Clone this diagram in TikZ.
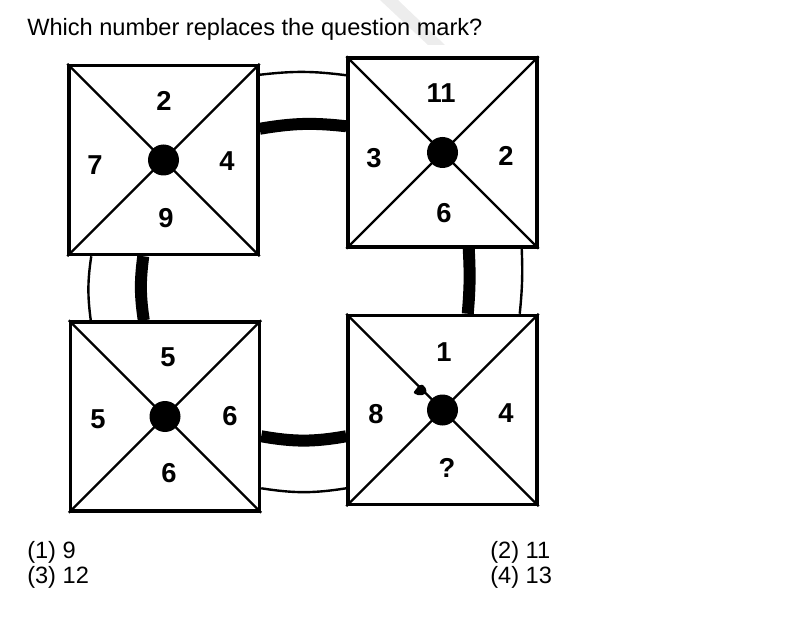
\documentclass[tikz,border=0pt]{standalone}
\usepackage{fontspec}
\setmainfont{Liberation Sans}
\usetikzlibrary{calc}
\begin{document}
\begin{tikzpicture}[x=0.75pt,y=-0.75pt,
  panel/.style={draw,line width=2.6pt,minimum size=141.75pt,inner sep=0pt},
  cross/.style={line width=1.7pt},
  ringthin/.style={line width=1.8pt},
  ringthick/.style={line width=9pt},
  num/.style={font=\fontsize{20.5}{20.5}\selectfont\bfseries,inner sep=0pt},
  txt/.style={font=\fontsize{17.7}{20}\selectfont,inner sep=0pt,anchor=base west}]
\useasboundingbox (0,0) rectangle (800,624);
% faint watermark
\fill[black!7] (380,0) -- (398,0) -- (445,45) -- (428,45) -- cycle;
\fill[black!7] (522,0) arc[start angle=-133,end angle=-47,radius=55] -- cycle;
\node[txt] (q) at (27,36) {Which number replaces the question mark?};
% four panels
\node[panel] (tl) at (163.5,160) {};
\node[panel] (tr) at (442.5,152.5) {};
\node[panel] (bl) at (165,416.5) {};
\node[panel] (br) at (442.5,410) {};
\draw[cross] (tl.north west) -- (tl.south east);
\draw[cross] (tl.north east) -- (tl.south west);
\draw[cross] (tr.north west) -- (tr.south east);
\draw[cross] (tr.north east) -- (tr.south west);
\draw[cross] (bl.north west) -- (bl.south east);
\draw[cross] (bl.north east) -- (bl.south west);
\draw[cross] (br.north west) -- (br.south east);
\draw[cross] (br.north east) -- (br.south west);
\fill (tl.center) circle (15.5);
\fill (tr.center) circle (15.5);
\fill (bl.center) circle (15.5);
\fill (br.center) circle (15.5);
\fill[rounded corners=1.5pt] (413,393) -- (420,384) -- (425,386) -- (427,393) -- (420,396) -- cycle;
% ring between the panels
\draw[ringthin] ($(tl.north east)+(0,11)$) to[bend left=7] ($(tr.north west)+(0,19)$);
\draw[ringthick] ($(tl.north east)+(0,65)$) to[bend left=8] ($(tr.north west)+(0,70)$);
\draw[ringthin] ($(tl.south west)+(24,0)$) to[bend right=8] ($(bl.north west)+(22,0)$);
\draw[ringthick] ($(tl.south west)+(76,0)$) to[bend right=8] ($(bl.north west)+(75,0)$);
\draw[ringthick] ($(tr.south east)+(-70,0)$) to[bend left=4] ($(br.north east)+(-71,0)$);
\draw[ringthin] ($(tr.south east)+(-17,0)$) to[bend left=4] ($(br.north east)+(-19,0)$);
\draw[ringthick] ($(bl.north east)+(0,116)$) to[bend right=10] ($(br.north west)+(0,122.5)$);
\draw[ringthin] ($(bl.north east)+(0,168)$) to[bend right=9] ($(br.north west)+(0,174.5)$);
% numbers
\node[num] (tl-n) at (164,101) {2};
\node[num] (tl-w) at (95,165) {7};
\node[num] (tl-e) at (227,161) {4};
\node[num] (tl-s) at (166,218) {9};
\node[num] (tr-n) at (441,93) {11};
\node[num] (tr-w) at (374,158) {3};
\node[num] (tr-e) at (506,156) {2};
\node[num] (tr-s) at (444,213) {6};
\node[num] (bl-n) at (168,357) {5};
\node[num] (bl-w) at (98,419) {5};
\node[num] (bl-e) at (230,416) {6};
\node[num] (bl-s) at (169,473) {6};
\node[num] (br-n) at (444,352) {1};
\node[num] (br-w) at (376,414) {8};
\node[num] (br-e) at (506,413) {4};
\node[num] (br-s) at (447,468) {?};
% answer options
\node[txt] (a1) at (27,558) {(1) 9};
\node[txt] (a3) at (27,583) {(3) 12};
\node[txt] (a2) at (490,558) {(2) 11};
\node[txt] (a4) at (490,583) {(4) 13};
\end{tikzpicture}
\end{document}
